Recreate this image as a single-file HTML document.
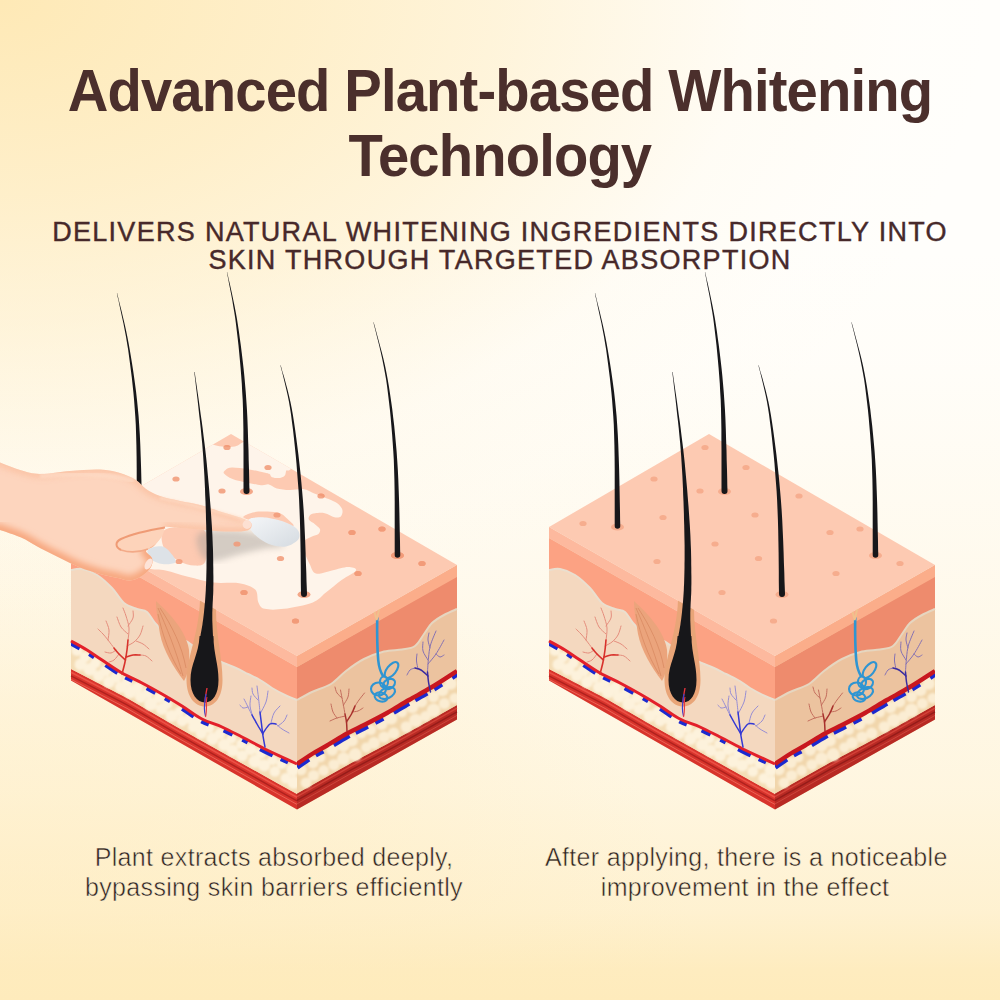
<!DOCTYPE html>
<html lang="en"><head><meta charset="utf-8"><title>Advanced Plant-based Whitening Technology</title>
<style>
html,body{margin:0;padding:0}
body{width:1000px;height:1000px;overflow:hidden;position:relative;font-family:"Liberation Sans",Arial,sans-serif;
background:
 radial-gradient(ellipse 1000px 650px at 0 0, rgba(254,233,182,1) 0%, rgba(254,233,182,.71) 30%, rgba(254,233,182,.47) 50%, rgba(254,233,182,.09) 75%, rgba(254,233,182,.01) 90%, rgba(254,233,182,0) 100%),
 radial-gradient(ellipse 700px 520px at 0 100%, rgba(254,235,188,.6) 0%, rgba(254,235,188,.31) 58%, rgba(254,235,188,0) 100%),
 linear-gradient(to top, rgba(254,235,188,1) 0px, rgba(254,235,188,.95) 30px, rgba(254,235,188,.67) 90px, rgba(254,235,188,.43) 210px, rgba(254,235,188,.27) 370px, rgba(254,235,188,.04) 640px, rgba(254,235,188,0) 750px),
 #fffefb;}
.t{position:absolute;white-space:nowrap;text-align:center;left:0;width:1000px;margin:0}
h1.t{top:57.8px;font-size:59.6px;line-height:65px;font-weight:700;color:#4b2f2c;letter-spacing:-0.9px;transform:scaleX(.943);transform-origin:499px 0}
.sub{top:217.9px;font-size:27px;line-height:28.4px;color:#47292a;letter-spacing:1.3px;-webkit-text-stroke:.4px #47292a}
.cap{font-size:25px;line-height:29.7px;color:#2e2222;width:auto;letter-spacing:.33px;-webkit-text-stroke:.5px #fef2d4}
</style></head><body>
<h1 class="t">Advanced Plant-based Whitening<br>Technology</h1>
<p class="t sub">DELIVERS NATURAL WHITENING INGREDIENTS DIRECTLY INTO<br>SKIN THROUGH TARGETED ABSORPTION</p>
<svg width="1000" height="1000" viewBox="0 0 1000 1000" style="position:absolute;left:0;top:0">
<defs><filter id="b08"><feGaussianBlur stdDeviation="0.8"/></filter><filter id="b1"><feGaussianBlur stdDeviation="1.2"/></filter><filter id="b3"><feGaussianBlur stdDeviation="3"/></filter><linearGradient id="hand" gradientUnits="userSpaceOnUse" x1="60" y1="465" x2="95" y2="580"><stop offset="0" stop-color="#fed6bc"/><stop offset=".55" stop-color="#fdcaab"/><stop offset="1" stop-color="#f7ab88"/></linearGradient><linearGradient id="cream" x1="0" y1="0" x2="1" y2="1"><stop offset="0" stop-color="#f4f6f8"/><stop offset="1" stop-color="#d5dbe1"/></linearGradient></defs>
<g id="rb">
<path d="M549 527 L775 656 L775 809.5 L549 680.5Z" fill="#f4d8bf"/>
<path d="M775 656 L935 565 L935 719.5 L775 809.5Z" fill="#ecc39f"/>
<path d="M549 538 L775 667 L775 700 L775 700C773.3 699.3 769.2 698 765 696C760.8 694 754.5 690.7 750 688C745.5 685.3 742 682.3 738 680C734 677.7 730 676 726 674C722 672 718.8 670.2 714 668C709.2 665.8 702.7 663.7 697 661C691.3 658.3 685.8 655.5 680 652C674.2 648.5 667.8 643 662 640C656.2 637 649.8 636.8 645 634C640.2 631.2 636.3 626.7 633 623C629.7 619.3 628 614.3 625 612C622 609.7 618.8 610.5 615 609C611.2 607.5 606.2 606.5 602 603C597.8 599.5 594.5 592.7 590 588C585.5 583.3 580 578.2 575 575C570 571.8 564.3 569.8 560 569C555.7 568.2 550.8 569.8 549 570Z" fill="#fca283"/>
<path d="M549 570C550.8 569.8 555.7 568.2 560 569C564.3 569.8 570 571.8 575 575C580 578.2 585.5 583.3 590 588C594.5 592.7 597.8 599.5 602 603C606.2 606.5 611.2 607.5 615 609C618.8 610.5 622 609.7 625 612C628 614.3 629.7 619.3 633 623C636.3 626.7 640.2 631.2 645 634C649.8 636.8 656.2 637 662 640C667.8 643 674.2 648.5 680 652C685.8 655.5 691.3 658.3 697 661C702.7 663.7 709.2 665.8 714 668C718.8 670.2 722 672 726 674C730 676 734 677.7 738 680C742 682.3 745.5 685.3 750 688C754.5 690.7 760.8 694 765 696C769.2 698 773.3 699.3 775 700" fill="none" stroke="#eadfcf" stroke-width="2"/>
<path d="M935 576 L775 667 L775 700C777.5 698.7 784.3 694.7 790 692C795.7 689.3 803.3 687.5 809 684C814.7 680.5 818.5 675.2 824 671C829.5 666.8 835.7 662.2 842 659C848.3 655.8 855.7 653.1 862 651.5C868.3 649.9 874.8 650.4 880 649.5C885.2 648.6 889.3 648.6 893 646C896.7 643.4 899.2 637.8 902 634C904.8 630.2 906.7 626.2 910 623C913.3 619.8 917.8 617.3 922 615C926.2 612.7 932.8 610 935 609Z" fill="#ee8b6d"/>
<path d="M775 700C777.5 698.7 784.3 694.7 790 692C795.7 689.3 803.3 687.5 809 684C814.7 680.5 818.5 675.2 824 671C829.5 666.8 835.7 662.2 842 659C848.3 655.8 855.7 653.1 862 651.5C868.3 649.9 874.8 650.4 880 649.5C885.2 648.6 889.3 648.6 893 646C896.7 643.4 899.2 637.8 902 634C904.8 630.2 906.7 626.2 910 623C913.3 619.8 917.8 617.3 922 615C926.2 612.7 932.8 610 935 609" fill="none" stroke="#e6d6c0" stroke-width="2"/>
<path d="M549 527 L775 656 L775 667 L549 538Z" fill="#fdb99e"/>
<path d="M775 656 L935 565 L935 577 L775 667Z" fill="#fbad8a"/>
<path d="M549 669 L605 698 L655 727 L705 755 L755 783 L775 794 L775 809.5 L549 680.5Z" fill="#d8342c"/>
<path d="M775 793.5 L830 762.5 L865 744 L895 727.5 L935 705 L935 719.5 L775 809.5Z" fill="#b82a24"/>
<path d="M549 672.2 L605 701.2 L655 730.2 L705 758.2 L755 786.2 L775 797.2" stroke="#f0564a" stroke-width="1.6" fill="none" opacity=".85"/>
<path d="M549 675.8 L605 704.8 L655 733.8 L705 761.8 L755 789.8 L775 800.8" stroke="#a81f1c" stroke-width="1.4" fill="none" opacity=".85"/>
<path d="M549 679.4 L605 708.4 L655 737.4 L705 765.4 L755 793.4 L775 804.4" stroke="#ee6a5c" stroke-width="1.0" fill="none" opacity=".85"/>
<path d="M775 796.7 L830 765.7 L865 747.2 L895 730.7 L935 708.2" stroke="#d9463c" stroke-width="1.4" fill="none" opacity=".85"/>
<path d="M775 800.3 L830 769.3 L865 750.8 L895 734.3 L935 711.8" stroke="#8e1a18" stroke-width="1.4" fill="none" opacity=".85"/>
<path d="M775 803.9 L830 772.9 L865 754.4 L895 737.9 L935 715.4" stroke="#cf4a40" stroke-width="1.0" fill="none" opacity=".85"/>
<clipPath id="lfR"><path d="M549 527 L775 656 L775 809.5 L549 680.5Z"/></clipPath><clipPath id="rfR"><path d="M775 656 L935 565 L935 719.5 L775 809.5Z"/></clipPath>
<path d="M549 641C551.7 642.5 559.8 646.8 565 650C570.2 653.2 574.2 656.2 580 660C585.8 663.8 593.3 669.2 600 673C606.7 676.8 613.3 679.5 620 683C626.7 686.5 633.3 690.2 640 694C646.7 697.8 653.3 701.8 660 706C666.7 710.2 673.3 715.5 680 719C686.7 722.5 693.3 724 700 727C706.7 730 712.5 733.2 720 737C727.5 740.8 738.3 746.7 745 750C751.7 753.3 755 754.7 760 757C765 759.3 772.5 762.8 775 764 L775 794 L755 783 L705 755 L655 727 L605 698 L549 669Z" fill="#f4ddb6"/>
<path d="M775 764C777.5 762.3 785 757.1 790 754C795 750.9 799.2 748.9 805 745.5C810.8 742.1 818.8 736.9 825 733.5C831.2 730.1 835.3 728.4 842 725C848.7 721.6 857.5 717.2 865 713C872.5 708.8 879.5 704.3 887 700C894.5 695.7 902 691.8 910 687C918 682.2 930.8 673.7 935 671 L935 705 L895 727.5 L865 744 L830 762.5 L775 793.5Z" fill="#f1d6ac"/>
<g clip-path="url(#lfR)"><g fill="#fdf2dc" filter="url(#b08)"><circle cx="555" cy="650.4" r="5.5"/><circle cx="558.6" cy="664.4" r="6"/><circle cx="563.1" cy="657" r="5.2"/><circle cx="567.9" cy="669.3" r="6.4"/><circle cx="573.4" cy="663.1" r="5.3"/><circle cx="576.8" cy="676" r="5.8"/><circle cx="583.5" cy="670.8" r="5.8"/><circle cx="587.1" cy="681.9" r="6"/><circle cx="594.1" cy="677.1" r="5.6"/><circle cx="598.7" cy="687.1" r="5.8"/><circle cx="605.5" cy="681.1" r="5.4"/><circle cx="608.1" cy="691.9" r="6.4"/><circle cx="615.2" cy="687.8" r="5.7"/><circle cx="618.6" cy="697.2" r="5.7"/><circle cx="625.7" cy="693.2" r="5.5"/><circle cx="628.8" cy="704" r="6.6"/><circle cx="637" cy="697.7" r="5.5"/><circle cx="639.7" cy="709.2" r="5.9"/><circle cx="645.1" cy="704.3" r="4.9"/><circle cx="649.7" cy="715.9" r="6.2"/><circle cx="657.4" cy="711.7" r="4.9"/><circle cx="660.1" cy="720.9" r="5.5"/><circle cx="668.5" cy="718" r="6.2"/><circle cx="671.2" cy="727.2" r="5.3"/><circle cx="677.3" cy="722.9" r="6"/><circle cx="679.3" cy="733.3" r="5.6"/><circle cx="687.1" cy="727.9" r="5.1"/><circle cx="690.5" cy="738.6" r="6.3"/><circle cx="698" cy="733.6" r="5.5"/><circle cx="702.1" cy="744.8" r="6.2"/><circle cx="709.5" cy="738.8" r="4.9"/><circle cx="710.6" cy="750.5" r="5.9"/><circle cx="719.2" cy="744.1" r="5"/><circle cx="720.2" cy="755.6" r="5.7"/><circle cx="728.6" cy="749.5" r="5.8"/><circle cx="732.7" cy="761.4" r="6.3"/><circle cx="738.8" cy="753.1" r="5.5"/><circle cx="742.2" cy="765.4" r="6.1"/><circle cx="750.6" cy="760.3" r="5"/><circle cx="752.8" cy="771.4" r="5.3"/><circle cx="759.8" cy="763.9" r="5.1"/><circle cx="763.7" cy="778.2" r="5.2"/><circle cx="770.8" cy="769.7" r="6.4"/><circle cx="771.9" cy="782.4" r="6.5"/></g></g>
<g clip-path="url(#rfR)"><g fill="#fbedd3" filter="url(#b08)"><circle cx="779.1" cy="769.8" r="5.5"/><circle cx="784" cy="782.8" r="5.4"/><circle cx="790.9" cy="762.8" r="5.7"/><circle cx="791.6" cy="775.5" r="5.6"/><circle cx="798.6" cy="757.5" r="4.8"/><circle cx="801.7" cy="770.4" r="5.3"/><circle cx="810.1" cy="749.8" r="5.9"/><circle cx="811.9" cy="764.8" r="5.6"/><circle cx="821.3" cy="745.3" r="6.4"/><circle cx="821.5" cy="758.7" r="6.4"/><circle cx="829.9" cy="740.5" r="6"/><circle cx="833.3" cy="754.6" r="6.5"/><circle cx="839.3" cy="733.3" r="5.2"/><circle cx="844.2" cy="747.6" r="5.1"/><circle cx="848.7" cy="729.6" r="5.4"/><circle cx="852" cy="743" r="5.9"/><circle cx="859.5" cy="724.1" r="6"/><circle cx="862.1" cy="737.1" r="5.7"/><circle cx="869.1" cy="718.2" r="6.3"/><circle cx="871.8" cy="733.3" r="5.7"/><circle cx="879.9" cy="712" r="5.2"/><circle cx="884.3" cy="726.9" r="5.7"/><circle cx="890.3" cy="707.3" r="6"/><circle cx="893.7" cy="720.3" r="6.6"/><circle cx="899.4" cy="701.6" r="5.9"/><circle cx="903.5" cy="716.2" r="5.3"/><circle cx="911.4" cy="696.8" r="5.5"/><circle cx="911.6" cy="710.3" r="6.7"/><circle cx="920.4" cy="690.2" r="6"/><circle cx="922.4" cy="703.5" r="5.5"/><circle cx="928.8" cy="683.5" r="6.2"/><circle cx="932.8" cy="698.3" r="5.3"/></g></g>
<path d="M549 641C551.7 642.5 559.8 646.8 565 650C570.2 653.2 574.2 656.2 580 660C585.8 663.8 593.3 669.2 600 673C606.7 676.8 613.3 679.5 620 683C626.7 686.5 633.3 690.2 640 694C646.7 697.8 653.3 701.8 660 706C666.7 710.2 673.3 715.5 680 719C686.7 722.5 693.3 724 700 727C706.7 730 712.5 733.2 720 737C727.5 740.8 738.3 746.7 745 750C751.7 753.3 755 754.7 760 757C765 759.3 772.5 762.8 775 764" fill="none" stroke="#1b2ad0" stroke-width="4.5" stroke-dasharray="10 11 6 14 14 9 8 16" transform="translate(0,2.4)" clip-path="url(#lfR)"/>
<path d="M775 764C777.5 762.3 785 757.1 790 754C795 750.9 799.2 748.9 805 745.5C810.8 742.1 818.8 736.9 825 733.5C831.2 730.1 835.3 728.4 842 725C848.7 721.6 857.5 717.2 865 713C872.5 708.8 879.5 704.3 887 700C894.5 695.7 902 691.8 910 687C918 682.2 930.8 673.7 935 671" fill="none" stroke="#1b2ad0" stroke-width="5.5" stroke-dasharray="14 8 9 12 18 7" transform="translate(0,3)" clip-path="url(#rfR)"/>
<path d="M549 641C551.7 642.5 559.8 646.8 565 650C570.2 653.2 574.2 656.2 580 660C585.8 663.8 593.3 669.2 600 673C606.7 676.8 613.3 679.5 620 683C626.7 686.5 633.3 690.2 640 694C646.7 697.8 653.3 701.8 660 706C666.7 710.2 673.3 715.5 680 719C686.7 722.5 693.3 724 700 727C706.7 730 712.5 733.2 720 737C727.5 740.8 738.3 746.7 745 750C751.7 753.3 755 754.7 760 757C765 759.3 772.5 762.8 775 764" fill="none" stroke="#e3202a" stroke-width="3"/>
<path d="M775 764C777.5 762.3 785 757.1 790 754C795 750.9 799.2 748.9 805 745.5C810.8 742.1 818.8 736.9 825 733.5C831.2 730.1 835.3 728.4 842 725C848.7 721.6 857.5 717.2 865 713C872.5 708.8 879.5 704.3 887 700C894.5 695.7 902 691.8 910 687C918 682.2 930.8 673.7 935 671" fill="none" stroke="#c8171f" stroke-width="4.4" clip-path="url(#rfR)"/>
<g fill="none" stroke-linecap="round"><g stroke="#e07a6c" stroke-width="1.0" opacity=".8"><path d="M606 640C606.2 638 607.3 632 607 628C606.7 624 605 619.3 604 616C603 612.7 601.5 609.3 601 608"/><path d="M592 648C591 646.7 587.8 642.3 586 640C584.2 637.7 582.7 635.8 581 634C579.3 632.2 576.8 629.8 576 629"/><path d="M594 650C593.2 650.5 590.8 652.7 589 653C587.2 653.3 584 652.2 583 652"/><path d="M586 640C586.2 638.3 587.3 633.2 587 630C586.7 626.8 584.5 622.5 584 621"/><path d="M618 655C619 655.2 622 655 624 656C626 657 629 660.2 630 661"/><path d="M605 646C606.2 645.3 609.8 643.8 612 642C614.2 640.2 616.5 637.7 618 635C619.5 632.3 620.5 627.5 621 626"/><path d="M606 634C604.8 632.8 600.8 629.8 599 627C597.2 624.2 595.7 618.7 595 617"/><path d="M614 641C615.2 641.5 618.8 642.7 621 644C623.2 645.3 626 648.2 627 649"/><path d="M606 626C606.8 624.7 610.2 620.5 611 618C611.8 615.5 611 612.2 611 611"/><path d="M597 654C596.2 655 593.7 658.7 592 660C590.3 661.3 587.8 661.7 587 662"/></g><g stroke="#d8322c" stroke-width="1.6"><path d="M600 674C600.5 672 602.2 666 603 662C603.8 658 604.5 653.7 605 650C605.5 646.3 605.8 641.7 606 640"/><path d="M603.5 660C602.4 659 598.9 656 597 654C595.1 652 592.8 649 592 648"/><path d="M604 657C605.2 656.7 608.7 655.3 611 655C613.3 654.7 616.8 655 618 655"/></g></g>
<g fill="none" stroke-linecap="round"><g stroke="#7f7ad8" stroke-width="1.0" opacity=".8"><path d="M738 712C737.8 709.7 737 702.3 736.5 698C736 693.7 735.2 688 735 686"/><path d="M730 715C729.3 713.7 727.3 709.7 726 707C724.7 704.3 722.7 700.3 722 699"/><path d="M738 714C739 712 742.7 705.8 744 702C745.3 698.2 745.7 692.8 746 691"/><path d="M754 724C755 724.8 757.8 727.5 760 729C762.2 730.5 765.8 732.3 767 733"/><path d="M749 723C749.5 721.3 750.5 715.8 752 713C753.5 710.2 757 707.2 758 706"/><path d="M731 717C730.5 715.2 728.3 709.5 728 706C727.7 702.5 728.8 697.7 729 696"/><path d="M756 726C757 725.2 760.5 722.8 762 721C763.5 719.2 764.5 716 765 715"/><path d="M736 700C735.2 699 732 696 731 694C730 692 730.2 689 730 688"/><path d="M726 707C725.2 707.2 722.3 708.3 721 708C719.7 707.7 718.5 705.5 718 705"/></g><g stroke="#3338d4" stroke-width="1.5"><path d="M743 747C742.7 745.2 741.6 739.8 741 736C740.4 732.2 740 728 739.5 724C739 720 738.2 714 738 712"/><path d="M741 734C740 732.3 736.8 727.2 735 724C733.2 720.8 730.8 716.5 730 715"/><path d="M741 733C742.2 731.5 745.8 725.5 748 724C750.2 722.5 753 724 754 724"/></g></g>
<g fill="none" stroke-linecap="round"><g stroke="#b9584c" stroke-width="1.0" opacity=".8"><path d="M823 714C822.7 712.2 821.8 707 821 703C820.2 699 818.9 692.2 818.5 690"/><path d="M833 706C833.7 705 835.4 702.2 837 700C838.6 697.8 841.6 694.2 842.5 693"/><path d="M823.5 716C822.1 716.3 817.6 717.2 815 718C812.4 718.8 809.2 720.5 808 721"/><path d="M821.5 705C822.2 703.7 825.1 699.7 826 697C826.9 694.3 826.8 690.3 827 689"/><path d="M815 718C814.3 717 812 714.3 811 712C810 709.7 809.3 705.3 809 704"/><path d="M830 712C831 711.8 834.2 711.7 836 711C837.8 710.3 840.2 708.5 841 708"/><path d="M820 698C819.2 697.2 816.2 694.8 815 693C813.8 691.2 813.3 688 813 687"/></g><g stroke="#a8302c" stroke-width="1.5"><path d="M825 731C824.9 729.5 824.8 724.8 824.5 722C824.2 719.2 823.2 715.3 823 714"/><path d="M824.5 722C825.4 720.5 828.6 715.7 830 713C831.4 710.3 832.5 707.2 833 706"/></g></g>
<g fill="none" stroke-linecap="round"><g stroke="#6a5cb8" stroke-width="1.0" opacity=".8"><path d="M905.5 672C905.7 669.7 906 662.5 906.5 658C907 653.5 907.2 649.5 908.5 645C909.8 640.5 913.1 633.3 914 631"/><path d="M893 668C892.2 668.3 889.3 668.8 888 670C886.7 671.2 885.5 674.2 885 675"/><path d="M896 669C895.8 667.7 894.7 663.5 894.5 661C894.3 658.5 894.9 655.2 895 654"/><path d="M906 664C907.3 662.3 911.3 658 914 654C916.7 650 920.7 642.3 922 640"/><path d="M914 654C914.7 654.5 916.7 656.8 918 657C919.3 657.2 921.3 655.3 922 655"/><path d="M906 660C905.2 658.5 901.8 654 901 651C900.2 648 901 643.5 901 642"/><path d="M908 648C907.7 646.7 906.2 642.5 906 640C905.8 637.5 906.8 634.2 907 633"/></g><g stroke="#3a2ca0" stroke-width="1.5"><path d="M908.5 692C908.2 690.3 907 685.3 906.5 682C906 678.7 905.7 673.7 905.5 672"/><path d="M906 676C904.8 675 901.2 671.3 899 670C896.8 668.7 894 668.3 893 668"/></g></g>
<path d="M855.2 618 C855 632 855.2 648 856.2 660 C857 668 858.5 672 861 676" fill="none" stroke="#2f95d2" stroke-width="2.6" stroke-linecap="round"/>
<g fill="none" stroke="#2f95d2" stroke-width="2.1"><ellipse cx="869.5" cy="670" rx="4.6" ry="9.4" transform="rotate(38 869.5 670)"/><ellipse cx="856.5" cy="689" rx="7.5" ry="6.5"/><ellipse cx="865" cy="693" rx="8.5" ry="5.2" transform="rotate(-25 865 693)"/><ellipse cx="867" cy="684" rx="6.5" ry="4.6" transform="rotate(-30 867 684)"/><ellipse cx="859" cy="697" rx="6.5" ry="4.4" transform="rotate(15 859 697)"/><ellipse cx="862" cy="682" rx="4" ry="5.5"/></g>
<path d="M851.5 608 L854.6 620 L857.5 608" fill="none" stroke="#f1c08c" stroke-width="2"/>
<path d="M634 601 C646 612 664 630 667 650 C668 664 666 674 662 681 C652 668 641 650 638 634 C636 622 634 610 634 601Z" fill="#eba47c"/>
<g fill="none" stroke="#d98a62" stroke-width=".8"><path d="M636 608 C644 626 654 650 661 676"/><path d="M638 608 C650 626 660 646 664 668"/><path d="M636 614 C640 634 648 656 659 674"/></g>
<path d="M678 600 C677 634 664.5 658 664.5 680 C664.5 697 673 706.5 683 706.5 C693 706.5 700.5 697 700.5 680 C700.5 658 694 636 694 609Z" fill="#e9a578"/>
<path d="M709 434 L935 565 L775 656 L549 527Z" fill="#fdcab2"/>
<g fill="#f5a888" opacity=".85"><ellipse cx="705" cy="447.5" rx="3.6" ry="2.6"/><ellipse cx="746" cy="467.5" rx="3.6" ry="2.6"/><ellipse cx="654" cy="479" rx="3.6" ry="2.6"/><ellipse cx="700" cy="491" rx="3.6" ry="2.6"/><ellipse cx="799" cy="496" rx="3.6" ry="2.6"/><ellipse cx="663" cy="517.5" rx="3.6" ry="2.6"/><ellipse cx="755" cy="515" rx="3.6" ry="2.6"/><ellipse cx="583" cy="523.5" rx="3.6" ry="2.6"/><ellipse cx="830" cy="532.5" rx="3.6" ry="2.6"/><ellipse cx="715" cy="544" rx="3.6" ry="2.6"/><ellipse cx="860" cy="529" rx="3.6" ry="2.6"/><ellipse cx="657" cy="561.5" rx="3.6" ry="2.6"/><ellipse cx="758.5" cy="558.5" rx="3.6" ry="2.6"/><ellipse cx="836" cy="573.5" rx="3.6" ry="2.6"/><ellipse cx="900" cy="563.5" rx="3.6" ry="2.6"/><ellipse cx="722" cy="592.5" rx="3.6" ry="2.6"/><ellipse cx="773.5" cy="621" rx="3.6" ry="2.6"/><ellipse cx="617.5" cy="527" rx="6.5" ry="3.6"/><ellipse cx="724.5" cy="491.5" rx="6.5" ry="3.6"/><ellipse cx="782" cy="594.5" rx="6.5" ry="3.6"/><ellipse cx="875.5" cy="555.5" rx="6.5" ry="3.6"/></g>
<g fill="#17171a"><path d="M594.9 293 L595.5 296.4 L596.5 300.5 L597.5 305.4 L598.7 310.9 L600 316.9 L601.4 323.3 L602.7 329.9 L604 336.7 L605.1 343.4 L606.2 350.1 L607.1 356.8 L608 363.6 L608.9 370.5 L609.8 377.6 L610.6 384.9 L611.4 392.4 L612.1 400.2 L612.7 408.2 L613.3 416.5 L613.8 425.1 L614.1 434.6 L614.4 445.2 L614.6 456.6 L614.7 468.4 L614.7 480.2 L614.7 491.6 L614.7 502.3 L614.7 511.9 L614.7 519.9 L614.7 526 A2.8 2.8 0 0 0 620.3 526 L620.3 526 L620.1 519.8 L620 511.8 L619.8 502.3 L619.6 491.6 L619.4 480.2 L619.1 468.3 L618.7 456.5 L618.3 445.1 L617.8 434.4 L617.2 424.9 L616.6 416.2 L615.8 407.9 L615 399.9 L614.1 392.1 L613.1 384.6 L612.1 377.3 L611.1 370.2 L610 363.3 L608.9 356.5 L607.8 349.9 L606.6 343.2 L605.3 336.4 L603.9 329.7 L602.4 323.1 L600.9 316.7 L599.5 310.7 L598.1 305.3 L596.9 300.4 L595.9 296.3 L595.1 293Z"/><path d="M704.9 272 L705.4 275.1 L706.2 278.9 L707 283.4 L708 288.4 L709.1 293.9 L710.2 299.8 L711.2 305.9 L712.3 312.3 L713.3 318.7 L714.1 325.1 L714.9 331.7 L715.7 338.5 L716.5 345.5 L717.2 352.8 L717.9 360.3 L718.6 367.9 L719.2 375.8 L719.8 383.8 L720.2 391.9 L720.7 400.1 L721 408.9 L721.2 418.7 L721.4 429 L721.4 439.7 L721.5 450.2 L721.5 460.4 L721.5 469.9 L721.5 478.4 L721.5 485.6 L721.5 491.1 A3 3 0 0 0 727.5 490.9 L727.5 490.9 L727.3 485.5 L727.2 478.3 L727 469.9 L726.7 460.4 L726.5 450.1 L726.1 439.6 L725.8 428.9 L725.4 418.6 L724.9 408.8 L724.3 399.9 L723.7 391.6 L723 383.5 L722.3 375.5 L721.5 367.7 L720.6 360 L719.7 352.5 L718.8 345.2 L717.8 338.2 L716.9 331.4 L715.9 324.9 L714.9 318.4 L713.7 312 L712.5 305.7 L711.2 299.6 L710 293.7 L708.8 288.2 L707.7 283.2 L706.6 278.8 L705.8 275 L705.1 272Z"/><path d="M758.4 365 L759 367.9 L759.9 371.3 L760.9 375.3 L762 379.8 L763.2 384.8 L764.5 390.2 L765.8 396 L767 402.1 L768.1 408.5 L769.1 415.1 L770 422.2 L771 429.8 L771.9 437.8 L772.8 446.2 L773.7 454.9 L774.5 463.8 L775.2 472.9 L775.9 482 L776.6 491.1 L777.1 500.1 L777.5 509.6 L777.9 519.8 L778.2 530.6 L778.4 541.5 L778.6 552.4 L778.7 562.8 L778.8 572.5 L778.8 581.1 L778.9 588.4 L779 594.1 A3 3 0 0 0 785 593.9 L785 593.9 L784.8 588.3 L784.5 581 L784.3 572.4 L783.9 562.7 L783.6 552.3 L783.2 541.4 L782.7 530.4 L782.2 519.6 L781.6 509.4 L780.9 499.9 L780.1 490.8 L779.3 481.7 L778.4 472.6 L777.4 463.5 L776.4 454.6 L775.3 445.9 L774.2 437.5 L773.1 429.5 L772 421.9 L770.9 414.9 L769.7 408.2 L768.4 401.8 L767 395.7 L765.6 390 L764.1 384.6 L762.8 379.6 L761.5 375.1 L760.3 371.2 L759.4 367.8 L758.6 365Z"/><path d="M851.4 322 L852.1 325.4 L853.2 329.6 L854.4 334.5 L855.8 340.1 L857.3 346.1 L858.8 352.6 L860.3 359.3 L861.7 366.2 L863 373.2 L864.2 380.1 L865.2 387.2 L866.1 394.5 L867 402 L867.9 409.8 L868.7 417.8 L869.4 426 L870.1 434.3 L870.7 442.8 L871.3 451.4 L871.8 460.1 L872.1 469.4 L872.4 479.6 L872.6 490.4 L872.7 501.5 L872.7 512.5 L872.7 523.1 L872.7 533 L872.7 541.9 L872.7 549.3 L872.7 555 A2.8 2.8 0 0 0 878.3 555 L878.3 555 L878.1 549.2 L878 541.8 L877.8 533 L877.6 523.1 L877.4 512.5 L877.1 501.4 L876.7 490.3 L876.3 479.5 L875.8 469.2 L875.2 459.9 L874.6 451.2 L873.8 442.6 L873 434.1 L872.2 425.7 L871.2 417.6 L870.3 409.6 L869.2 401.8 L868.1 394.2 L867 386.9 L865.8 379.9 L864.5 372.9 L863.1 365.9 L861.5 359 L859.8 352.3 L858.1 345.9 L856.5 339.9 L855 334.4 L853.7 329.5 L852.5 325.3 L851.6 322Z"/></g>
<path d="M672.3 372 L672.7 375.8 L673.3 380.6 L673.9 386.1 L674.7 392.4 L675.5 399.2 L676.3 406.4 L677.1 413.9 L678 421.4 L678.8 429 L679.5 436.4 L680.2 443.5 L680.7 450.1 L681.2 456.5 L681.6 463 L682 469.6 L682.4 476.1 L682.7 482.6 L683 489.1 L683.2 495.5 L683.5 501.7 L683.7 507.9 L683.9 513.8 L684 519.6 L684.2 525.1 L684.3 530.5 L684.4 535.7 L684.5 540.7 L684.6 545.6 L684.6 550.4 L684.6 555 L684.6 559.5 L684.5 563.9 L684.5 568.1 L684.4 572.2 L684.3 576.2 L684.2 580 L684.1 583.6 L683.9 587 L683.8 590.2 L683.6 593.3 L683.4 596.3 L683.2 599.1 L683 601.9 L682.7 604.5 L682.5 607.1 L682.2 609.7 L682 612.2 L681.7 614.8 L681.4 617.3 L681.1 619.8 L680.7 622.3 L680.4 624.7 L680 627.1 L679.6 629.3 L679.2 631.5 L678.8 633.5 L678.5 635.4 L678.2 637 L678 638.4 L677.8 639.6 L691.2 640.4 L691.2 639.2 L691.1 637.8 L691 636.1 L690.9 634.3 L690.8 632.2 L690.7 630 L690.6 627.7 L690.5 625.3 L690.4 622.8 L690.3 620.3 L690.3 617.8 L690.3 615.2 L690.3 612.8 L690.4 610.3 L690.5 607.7 L690.6 605.1 L690.7 602.4 L690.9 599.6 L691 596.7 L691.2 593.7 L691.3 590.5 L691.3 587.2 L691.4 583.7 L691.4 580 L691.4 576.2 L691.3 572.2 L691.3 568.1 L691.2 563.9 L691.2 559.5 L691.1 555 L691 550.3 L690.8 545.5 L690.6 540.5 L690.4 535.5 L690.1 530.2 L689.8 524.9 L689.4 519.3 L689 513.6 L688.6 507.6 L688.1 501.5 L687.6 495.2 L687.1 488.8 L686.5 482.3 L685.9 475.8 L685.3 469.3 L684.7 462.8 L684 456.3 L683.3 449.9 L682.5 443.2 L681.6 436.2 L680.7 428.8 L679.7 421.2 L678.6 413.7 L677.6 406.2 L676.6 399.1 L675.6 392.3 L674.7 386 L673.9 380.5 L673.2 375.7 L672.7 372Z" fill="#17171a"/><path d="M677.6 636 C676.5 655 668.5 664 668.5 680 C668.5 694 675 702.5 683 702.5 C691 702.5 696.5 694 696.5 680 C696.5 664 691.8 655 691.4 636Z" fill="#17171a"/><path d="M683 703 C683 696 684.5 692 685 688" stroke="#e8343c" stroke-width="1.3" fill="none"/><path d="M683.5 716 C681 708 683 700 684 694" stroke="#3a3fd0" stroke-width="1.2" fill="none"/><path d="M683.5 717 C685.5 709 683.5 702 685 697" stroke="#e8343c" stroke-width="1.1" fill="none"/>
</g>
<g transform="translate(-478 0)">
<path d="M549 527 L775 656 L775 809.5 L549 680.5Z" fill="#f4d8bf"/>
<path d="M775 656 L935 565 L935 719.5 L775 809.5Z" fill="#ecc39f"/>
<path d="M549 538 L775 667 L775 700 L775 700C773.3 699.3 769.2 698 765 696C760.8 694 754.5 690.7 750 688C745.5 685.3 742 682.3 738 680C734 677.7 730 676 726 674C722 672 718.8 670.2 714 668C709.2 665.8 702.7 663.7 697 661C691.3 658.3 685.8 655.5 680 652C674.2 648.5 667.8 643 662 640C656.2 637 649.8 636.8 645 634C640.2 631.2 636.3 626.7 633 623C629.7 619.3 628 614.3 625 612C622 609.7 618.8 610.5 615 609C611.2 607.5 606.2 606.5 602 603C597.8 599.5 594.5 592.7 590 588C585.5 583.3 580 578.2 575 575C570 571.8 564.3 569.8 560 569C555.7 568.2 550.8 569.8 549 570Z" fill="#fca283"/>
<path d="M549 570C550.8 569.8 555.7 568.2 560 569C564.3 569.8 570 571.8 575 575C580 578.2 585.5 583.3 590 588C594.5 592.7 597.8 599.5 602 603C606.2 606.5 611.2 607.5 615 609C618.8 610.5 622 609.7 625 612C628 614.3 629.7 619.3 633 623C636.3 626.7 640.2 631.2 645 634C649.8 636.8 656.2 637 662 640C667.8 643 674.2 648.5 680 652C685.8 655.5 691.3 658.3 697 661C702.7 663.7 709.2 665.8 714 668C718.8 670.2 722 672 726 674C730 676 734 677.7 738 680C742 682.3 745.5 685.3 750 688C754.5 690.7 760.8 694 765 696C769.2 698 773.3 699.3 775 700" fill="none" stroke="#eadfcf" stroke-width="2"/>
<path d="M935 576 L775 667 L775 700C777.5 698.7 784.3 694.7 790 692C795.7 689.3 803.3 687.5 809 684C814.7 680.5 818.5 675.2 824 671C829.5 666.8 835.7 662.2 842 659C848.3 655.8 855.7 653.1 862 651.5C868.3 649.9 874.8 650.4 880 649.5C885.2 648.6 889.3 648.6 893 646C896.7 643.4 899.2 637.8 902 634C904.8 630.2 906.7 626.2 910 623C913.3 619.8 917.8 617.3 922 615C926.2 612.7 932.8 610 935 609Z" fill="#ee8b6d"/>
<path d="M775 700C777.5 698.7 784.3 694.7 790 692C795.7 689.3 803.3 687.5 809 684C814.7 680.5 818.5 675.2 824 671C829.5 666.8 835.7 662.2 842 659C848.3 655.8 855.7 653.1 862 651.5C868.3 649.9 874.8 650.4 880 649.5C885.2 648.6 889.3 648.6 893 646C896.7 643.4 899.2 637.8 902 634C904.8 630.2 906.7 626.2 910 623C913.3 619.8 917.8 617.3 922 615C926.2 612.7 932.8 610 935 609" fill="none" stroke="#e6d6c0" stroke-width="2"/>
<path d="M549 527 L775 656 L775 667 L549 538Z" fill="#fdb99e"/>
<path d="M775 656 L935 565 L935 577 L775 667Z" fill="#fbad8a"/>
<path d="M549 669 L605 698 L655 727 L705 755 L755 783 L775 794 L775 809.5 L549 680.5Z" fill="#d8342c"/>
<path d="M775 793.5 L830 762.5 L865 744 L895 727.5 L935 705 L935 719.5 L775 809.5Z" fill="#b82a24"/>
<path d="M549 672.2 L605 701.2 L655 730.2 L705 758.2 L755 786.2 L775 797.2" stroke="#f0564a" stroke-width="1.6" fill="none" opacity=".85"/>
<path d="M549 675.8 L605 704.8 L655 733.8 L705 761.8 L755 789.8 L775 800.8" stroke="#a81f1c" stroke-width="1.4" fill="none" opacity=".85"/>
<path d="M549 679.4 L605 708.4 L655 737.4 L705 765.4 L755 793.4 L775 804.4" stroke="#ee6a5c" stroke-width="1.0" fill="none" opacity=".85"/>
<path d="M775 796.7 L830 765.7 L865 747.2 L895 730.7 L935 708.2" stroke="#d9463c" stroke-width="1.4" fill="none" opacity=".85"/>
<path d="M775 800.3 L830 769.3 L865 750.8 L895 734.3 L935 711.8" stroke="#8e1a18" stroke-width="1.4" fill="none" opacity=".85"/>
<path d="M775 803.9 L830 772.9 L865 754.4 L895 737.9 L935 715.4" stroke="#cf4a40" stroke-width="1.0" fill="none" opacity=".85"/>
<clipPath id="lfL"><path d="M549 527 L775 656 L775 809.5 L549 680.5Z"/></clipPath><clipPath id="rfL"><path d="M775 656 L935 565 L935 719.5 L775 809.5Z"/></clipPath>
<path d="M549 641C551.7 642.5 559.8 646.8 565 650C570.2 653.2 574.2 656.2 580 660C585.8 663.8 593.3 669.2 600 673C606.7 676.8 613.3 679.5 620 683C626.7 686.5 633.3 690.2 640 694C646.7 697.8 653.3 701.8 660 706C666.7 710.2 673.3 715.5 680 719C686.7 722.5 693.3 724 700 727C706.7 730 712.5 733.2 720 737C727.5 740.8 738.3 746.7 745 750C751.7 753.3 755 754.7 760 757C765 759.3 772.5 762.8 775 764 L775 794 L755 783 L705 755 L655 727 L605 698 L549 669Z" fill="#f4ddb6"/>
<path d="M775 764C777.5 762.3 785 757.1 790 754C795 750.9 799.2 748.9 805 745.5C810.8 742.1 818.8 736.9 825 733.5C831.2 730.1 835.3 728.4 842 725C848.7 721.6 857.5 717.2 865 713C872.5 708.8 879.5 704.3 887 700C894.5 695.7 902 691.8 910 687C918 682.2 930.8 673.7 935 671 L935 705 L895 727.5 L865 744 L830 762.5 L775 793.5Z" fill="#f1d6ac"/>
<g clip-path="url(#lfL)"><g fill="#fdf2dc" filter="url(#b08)"><circle cx="555" cy="650.4" r="5.5"/><circle cx="558.6" cy="664.4" r="6"/><circle cx="563.1" cy="657" r="5.2"/><circle cx="567.9" cy="669.3" r="6.4"/><circle cx="573.4" cy="663.1" r="5.3"/><circle cx="576.8" cy="676" r="5.8"/><circle cx="583.5" cy="670.8" r="5.8"/><circle cx="587.1" cy="681.9" r="6"/><circle cx="594.1" cy="677.1" r="5.6"/><circle cx="598.7" cy="687.1" r="5.8"/><circle cx="605.5" cy="681.1" r="5.4"/><circle cx="608.1" cy="691.9" r="6.4"/><circle cx="615.2" cy="687.8" r="5.7"/><circle cx="618.6" cy="697.2" r="5.7"/><circle cx="625.7" cy="693.2" r="5.5"/><circle cx="628.8" cy="704" r="6.6"/><circle cx="637" cy="697.7" r="5.5"/><circle cx="639.7" cy="709.2" r="5.9"/><circle cx="645.1" cy="704.3" r="4.9"/><circle cx="649.7" cy="715.9" r="6.2"/><circle cx="657.4" cy="711.7" r="4.9"/><circle cx="660.1" cy="720.9" r="5.5"/><circle cx="668.5" cy="718" r="6.2"/><circle cx="671.2" cy="727.2" r="5.3"/><circle cx="677.3" cy="722.9" r="6"/><circle cx="679.3" cy="733.3" r="5.6"/><circle cx="687.1" cy="727.9" r="5.1"/><circle cx="690.5" cy="738.6" r="6.3"/><circle cx="698" cy="733.6" r="5.5"/><circle cx="702.1" cy="744.8" r="6.2"/><circle cx="709.5" cy="738.8" r="4.9"/><circle cx="710.6" cy="750.5" r="5.9"/><circle cx="719.2" cy="744.1" r="5"/><circle cx="720.2" cy="755.6" r="5.7"/><circle cx="728.6" cy="749.5" r="5.8"/><circle cx="732.7" cy="761.4" r="6.3"/><circle cx="738.8" cy="753.1" r="5.5"/><circle cx="742.2" cy="765.4" r="6.1"/><circle cx="750.6" cy="760.3" r="5"/><circle cx="752.8" cy="771.4" r="5.3"/><circle cx="759.8" cy="763.9" r="5.1"/><circle cx="763.7" cy="778.2" r="5.2"/><circle cx="770.8" cy="769.7" r="6.4"/><circle cx="771.9" cy="782.4" r="6.5"/></g></g>
<g clip-path="url(#rfL)"><g fill="#fbedd3" filter="url(#b08)"><circle cx="779.1" cy="769.8" r="5.5"/><circle cx="784" cy="782.8" r="5.4"/><circle cx="790.9" cy="762.8" r="5.7"/><circle cx="791.6" cy="775.5" r="5.6"/><circle cx="798.6" cy="757.5" r="4.8"/><circle cx="801.7" cy="770.4" r="5.3"/><circle cx="810.1" cy="749.8" r="5.9"/><circle cx="811.9" cy="764.8" r="5.6"/><circle cx="821.3" cy="745.3" r="6.4"/><circle cx="821.5" cy="758.7" r="6.4"/><circle cx="829.9" cy="740.5" r="6"/><circle cx="833.3" cy="754.6" r="6.5"/><circle cx="839.3" cy="733.3" r="5.2"/><circle cx="844.2" cy="747.6" r="5.1"/><circle cx="848.7" cy="729.6" r="5.4"/><circle cx="852" cy="743" r="5.9"/><circle cx="859.5" cy="724.1" r="6"/><circle cx="862.1" cy="737.1" r="5.7"/><circle cx="869.1" cy="718.2" r="6.3"/><circle cx="871.8" cy="733.3" r="5.7"/><circle cx="879.9" cy="712" r="5.2"/><circle cx="884.3" cy="726.9" r="5.7"/><circle cx="890.3" cy="707.3" r="6"/><circle cx="893.7" cy="720.3" r="6.6"/><circle cx="899.4" cy="701.6" r="5.9"/><circle cx="903.5" cy="716.2" r="5.3"/><circle cx="911.4" cy="696.8" r="5.5"/><circle cx="911.6" cy="710.3" r="6.7"/><circle cx="920.4" cy="690.2" r="6"/><circle cx="922.4" cy="703.5" r="5.5"/><circle cx="928.8" cy="683.5" r="6.2"/><circle cx="932.8" cy="698.3" r="5.3"/></g></g>
<path d="M549 641C551.7 642.5 559.8 646.8 565 650C570.2 653.2 574.2 656.2 580 660C585.8 663.8 593.3 669.2 600 673C606.7 676.8 613.3 679.5 620 683C626.7 686.5 633.3 690.2 640 694C646.7 697.8 653.3 701.8 660 706C666.7 710.2 673.3 715.5 680 719C686.7 722.5 693.3 724 700 727C706.7 730 712.5 733.2 720 737C727.5 740.8 738.3 746.7 745 750C751.7 753.3 755 754.7 760 757C765 759.3 772.5 762.8 775 764" fill="none" stroke="#1b2ad0" stroke-width="4.5" stroke-dasharray="10 11 6 14 14 9 8 16" transform="translate(0,2.4)" clip-path="url(#lfL)"/>
<path d="M775 764C777.5 762.3 785 757.1 790 754C795 750.9 799.2 748.9 805 745.5C810.8 742.1 818.8 736.9 825 733.5C831.2 730.1 835.3 728.4 842 725C848.7 721.6 857.5 717.2 865 713C872.5 708.8 879.5 704.3 887 700C894.5 695.7 902 691.8 910 687C918 682.2 930.8 673.7 935 671" fill="none" stroke="#1b2ad0" stroke-width="5.5" stroke-dasharray="14 8 9 12 18 7" transform="translate(0,3)" clip-path="url(#rfL)"/>
<path d="M549 641C551.7 642.5 559.8 646.8 565 650C570.2 653.2 574.2 656.2 580 660C585.8 663.8 593.3 669.2 600 673C606.7 676.8 613.3 679.5 620 683C626.7 686.5 633.3 690.2 640 694C646.7 697.8 653.3 701.8 660 706C666.7 710.2 673.3 715.5 680 719C686.7 722.5 693.3 724 700 727C706.7 730 712.5 733.2 720 737C727.5 740.8 738.3 746.7 745 750C751.7 753.3 755 754.7 760 757C765 759.3 772.5 762.8 775 764" fill="none" stroke="#e3202a" stroke-width="3"/>
<path d="M775 764C777.5 762.3 785 757.1 790 754C795 750.9 799.2 748.9 805 745.5C810.8 742.1 818.8 736.9 825 733.5C831.2 730.1 835.3 728.4 842 725C848.7 721.6 857.5 717.2 865 713C872.5 708.8 879.5 704.3 887 700C894.5 695.7 902 691.8 910 687C918 682.2 930.8 673.7 935 671" fill="none" stroke="#c8171f" stroke-width="4.4" clip-path="url(#rfL)"/>
<g fill="none" stroke-linecap="round"><g stroke="#e07a6c" stroke-width="1.0" opacity=".8"><path d="M606 640C606.2 638 607.3 632 607 628C606.7 624 605 619.3 604 616C603 612.7 601.5 609.3 601 608"/><path d="M592 648C591 646.7 587.8 642.3 586 640C584.2 637.7 582.7 635.8 581 634C579.3 632.2 576.8 629.8 576 629"/><path d="M594 650C593.2 650.5 590.8 652.7 589 653C587.2 653.3 584 652.2 583 652"/><path d="M586 640C586.2 638.3 587.3 633.2 587 630C586.7 626.8 584.5 622.5 584 621"/><path d="M618 655C619 655.2 622 655 624 656C626 657 629 660.2 630 661"/><path d="M605 646C606.2 645.3 609.8 643.8 612 642C614.2 640.2 616.5 637.7 618 635C619.5 632.3 620.5 627.5 621 626"/><path d="M606 634C604.8 632.8 600.8 629.8 599 627C597.2 624.2 595.7 618.7 595 617"/><path d="M614 641C615.2 641.5 618.8 642.7 621 644C623.2 645.3 626 648.2 627 649"/><path d="M606 626C606.8 624.7 610.2 620.5 611 618C611.8 615.5 611 612.2 611 611"/><path d="M597 654C596.2 655 593.7 658.7 592 660C590.3 661.3 587.8 661.7 587 662"/></g><g stroke="#d8322c" stroke-width="1.6"><path d="M600 674C600.5 672 602.2 666 603 662C603.8 658 604.5 653.7 605 650C605.5 646.3 605.8 641.7 606 640"/><path d="M603.5 660C602.4 659 598.9 656 597 654C595.1 652 592.8 649 592 648"/><path d="M604 657C605.2 656.7 608.7 655.3 611 655C613.3 654.7 616.8 655 618 655"/></g></g>
<g fill="none" stroke-linecap="round"><g stroke="#7f7ad8" stroke-width="1.0" opacity=".8"><path d="M738 712C737.8 709.7 737 702.3 736.5 698C736 693.7 735.2 688 735 686"/><path d="M730 715C729.3 713.7 727.3 709.7 726 707C724.7 704.3 722.7 700.3 722 699"/><path d="M738 714C739 712 742.7 705.8 744 702C745.3 698.2 745.7 692.8 746 691"/><path d="M754 724C755 724.8 757.8 727.5 760 729C762.2 730.5 765.8 732.3 767 733"/><path d="M749 723C749.5 721.3 750.5 715.8 752 713C753.5 710.2 757 707.2 758 706"/><path d="M731 717C730.5 715.2 728.3 709.5 728 706C727.7 702.5 728.8 697.7 729 696"/><path d="M756 726C757 725.2 760.5 722.8 762 721C763.5 719.2 764.5 716 765 715"/><path d="M736 700C735.2 699 732 696 731 694C730 692 730.2 689 730 688"/><path d="M726 707C725.2 707.2 722.3 708.3 721 708C719.7 707.7 718.5 705.5 718 705"/></g><g stroke="#3338d4" stroke-width="1.5"><path d="M743 747C742.7 745.2 741.6 739.8 741 736C740.4 732.2 740 728 739.5 724C739 720 738.2 714 738 712"/><path d="M741 734C740 732.3 736.8 727.2 735 724C733.2 720.8 730.8 716.5 730 715"/><path d="M741 733C742.2 731.5 745.8 725.5 748 724C750.2 722.5 753 724 754 724"/></g></g>
<g fill="none" stroke-linecap="round"><g stroke="#b9584c" stroke-width="1.0" opacity=".8"><path d="M823 714C822.7 712.2 821.8 707 821 703C820.2 699 818.9 692.2 818.5 690"/><path d="M833 706C833.7 705 835.4 702.2 837 700C838.6 697.8 841.6 694.2 842.5 693"/><path d="M823.5 716C822.1 716.3 817.6 717.2 815 718C812.4 718.8 809.2 720.5 808 721"/><path d="M821.5 705C822.2 703.7 825.1 699.7 826 697C826.9 694.3 826.8 690.3 827 689"/><path d="M815 718C814.3 717 812 714.3 811 712C810 709.7 809.3 705.3 809 704"/><path d="M830 712C831 711.8 834.2 711.7 836 711C837.8 710.3 840.2 708.5 841 708"/><path d="M820 698C819.2 697.2 816.2 694.8 815 693C813.8 691.2 813.3 688 813 687"/></g><g stroke="#a8302c" stroke-width="1.5"><path d="M825 731C824.9 729.5 824.8 724.8 824.5 722C824.2 719.2 823.2 715.3 823 714"/><path d="M824.5 722C825.4 720.5 828.6 715.7 830 713C831.4 710.3 832.5 707.2 833 706"/></g></g>
<g fill="none" stroke-linecap="round"><g stroke="#6a5cb8" stroke-width="1.0" opacity=".8"><path d="M905.5 672C905.7 669.7 906 662.5 906.5 658C907 653.5 907.2 649.5 908.5 645C909.8 640.5 913.1 633.3 914 631"/><path d="M893 668C892.2 668.3 889.3 668.8 888 670C886.7 671.2 885.5 674.2 885 675"/><path d="M896 669C895.8 667.7 894.7 663.5 894.5 661C894.3 658.5 894.9 655.2 895 654"/><path d="M906 664C907.3 662.3 911.3 658 914 654C916.7 650 920.7 642.3 922 640"/><path d="M914 654C914.7 654.5 916.7 656.8 918 657C919.3 657.2 921.3 655.3 922 655"/><path d="M906 660C905.2 658.5 901.8 654 901 651C900.2 648 901 643.5 901 642"/><path d="M908 648C907.7 646.7 906.2 642.5 906 640C905.8 637.5 906.8 634.2 907 633"/></g><g stroke="#3a2ca0" stroke-width="1.5"><path d="M908.5 692C908.2 690.3 907 685.3 906.5 682C906 678.7 905.7 673.7 905.5 672"/><path d="M906 676C904.8 675 901.2 671.3 899 670C896.8 668.7 894 668.3 893 668"/></g></g>
<path d="M855.2 618 C855 632 855.2 648 856.2 660 C857 668 858.5 672 861 676" fill="none" stroke="#2f95d2" stroke-width="2.6" stroke-linecap="round"/>
<g fill="none" stroke="#2f95d2" stroke-width="2.1"><ellipse cx="869.5" cy="670" rx="4.6" ry="9.4" transform="rotate(38 869.5 670)"/><ellipse cx="856.5" cy="689" rx="7.5" ry="6.5"/><ellipse cx="865" cy="693" rx="8.5" ry="5.2" transform="rotate(-25 865 693)"/><ellipse cx="867" cy="684" rx="6.5" ry="4.6" transform="rotate(-30 867 684)"/><ellipse cx="859" cy="697" rx="6.5" ry="4.4" transform="rotate(15 859 697)"/><ellipse cx="862" cy="682" rx="4" ry="5.5"/></g>
<path d="M851.5 608 L854.6 620 L857.5 608" fill="none" stroke="#f1c08c" stroke-width="2"/>
<path d="M634 601 C646 612 664 630 667 650 C668 664 666 674 662 681 C652 668 641 650 638 634 C636 622 634 610 634 601Z" fill="#eba47c"/>
<g fill="none" stroke="#d98a62" stroke-width=".8"><path d="M636 608 C644 626 654 650 661 676"/><path d="M638 608 C650 626 660 646 664 668"/><path d="M636 614 C640 634 648 656 659 674"/></g>
<path d="M678 600 C677 634 664.5 658 664.5 680 C664.5 697 673 706.5 683 706.5 C693 706.5 700.5 697 700.5 680 C700.5 658 694 636 694 609Z" fill="#e9a578"/>
<path d="M709 434 L935 565 L775 656 L549 527Z" fill="#fdcab2"/>
<g fill="#f29a78" opacity=".85"><ellipse cx="705" cy="447.5" rx="3.6" ry="2.6"/><ellipse cx="746" cy="467.5" rx="3.6" ry="2.6"/><ellipse cx="654" cy="479" rx="3.6" ry="2.6"/><ellipse cx="700" cy="491" rx="3.6" ry="2.6"/><ellipse cx="799" cy="496" rx="3.6" ry="2.6"/><ellipse cx="663" cy="517.5" rx="3.6" ry="2.6"/><ellipse cx="755" cy="515" rx="3.6" ry="2.6"/><ellipse cx="583" cy="523.5" rx="3.6" ry="2.6"/><ellipse cx="830" cy="532.5" rx="3.6" ry="2.6"/><ellipse cx="715" cy="544" rx="3.6" ry="2.6"/><ellipse cx="860" cy="529" rx="3.6" ry="2.6"/><ellipse cx="657" cy="561.5" rx="3.6" ry="2.6"/><ellipse cx="758.5" cy="558.5" rx="3.6" ry="2.6"/><ellipse cx="836" cy="573.5" rx="3.6" ry="2.6"/><ellipse cx="900" cy="563.5" rx="3.6" ry="2.6"/><ellipse cx="722" cy="592.5" rx="3.6" ry="2.6"/><ellipse cx="773.5" cy="621" rx="3.6" ry="2.6"/><ellipse cx="617.5" cy="527" rx="6.5" ry="3.6"/><ellipse cx="724.5" cy="491.5" rx="6.5" ry="3.6"/><ellipse cx="782" cy="594.5" rx="6.5" ry="3.6"/><ellipse cx="875.5" cy="555.5" rx="6.5" ry="3.6"/></g>
</g>
<clipPath id="topclip"><path d="M231 434 L457 565 L297 656 L71 527Z"/></clipPath>
<g clip-path="url(#topclip)">
<path d="M289.6 470C288 471.4 287.2 469.5 286.4 470.4C285.6 471.3 285.9 474.3 284.8 475.6C283.7 476.9 282.1 477.7 280 478C277.9 478.3 273.7 477.9 272 477.2C270.3 476.5 270.9 474.8 269.6 474C268.3 473.2 267.6 473.2 264 472.4C260.4 471.6 253.3 470 248 469.2C242.7 468.4 235.7 467.5 232 467.6C228.3 467.7 226.9 469 225.6 470C224.3 471 222.9 472 224 473.5C225.1 475 229.1 477.5 232 478.8C234.9 480.1 236.8 480.4 241.6 481.5C246.4 482.6 256.3 484.7 260.8 485.2C265.3 485.7 266.1 483.9 268.8 484.4C271.5 484.9 273.3 487.5 276.8 488.4C280.3 489.3 285.1 489.9 289.6 490C294.1 490.1 300.3 488.8 304 489.2C307.7 489.6 308 490.8 312 492.4C316 494 323.7 496.9 328 498.8C332.3 500.7 335.2 501.7 337.6 503.6C340 505.5 341.9 507.9 342.4 510C342.9 512.1 342.1 515.2 340.8 516.4C339.5 517.6 337.1 517.7 334.4 517.2C331.7 516.7 328 513.9 324.8 513.2C321.6 512.5 317.6 512.9 315.2 513.2C312.8 513.5 311.5 513.7 310.4 514.8C309.3 515.9 308 518 308.8 519.6C309.6 521.2 313.3 522.8 315.2 524.4C317.1 526 319.5 527.6 320 529.2C320.5 530.8 319.7 532.8 318.4 534C317.1 535.2 314.4 535.2 312 536.4C309.6 537.6 305.5 539.1 304 541C302.5 542.9 302.1 544.2 303 548C303.9 551.8 307.4 559.7 309.6 564C311.8 568.3 312.3 572.5 316 573.6C319.7 574.7 326.7 571.5 332 570.4C337.3 569.3 344 567 348 567C352 567 357.1 568.2 356 570.4C354.9 572.6 346.7 576.3 341.6 580C336.5 583.7 330.4 589.1 325.6 592.8C320.8 596.5 319.7 599.7 312.8 602.4C305.9 605.1 292 607.7 284 608.8C276 609.9 269.1 609.9 264.8 608.8C260.5 607.7 260 605.6 258.4 602.4C256.8 599.2 258.4 592.8 255.2 589.6C252 586.4 246.1 584.4 239.2 583.2C232.3 582 222.1 583.7 213.6 582.6C205.1 581.5 196 578.8 188 576.8C180 574.8 172.5 571.9 165.6 570.4C158.7 568.9 155.7 570.9 146.4 567.8C137.1 564.7 124.4 558.6 110 552C95.6 545.4 58.3 540 60 528C61.7 516 95.8 494.7 120 480C144.2 465.3 189.5 445.9 205 440C220.5 434.1 210.2 443.4 213 444.5C215.8 445.6 218.3 446.2 222 446.5C225.7 446.8 231 447.4 235 446.5C239 445.6 241.5 442.1 246 441C250.5 439.9 253.7 436.5 262 440C270.3 443.5 291.4 457 296 462C300.6 467 291.2 468.6 289.6 470Z" fill="#fef4ea"/>
<path d="M243.2 517C243.5 515.7 248.8 513.3 252.8 512.4C256.8 511.5 262.7 511.5 267.2 511.6C271.7 511.7 276.8 512.1 280 513.2C283.2 514.3 284.1 516 286.4 518C288.6 520 292.9 523.5 293.5 525C294.1 526.5 292.2 527.7 290 527C287.8 526.3 284.3 522.4 280 521C275.7 519.6 268.8 518.7 264 518.5C259.2 518.3 254.5 520.2 251 520C247.5 519.8 242.9 518.3 243.2 517Z" fill="#fdcab2"/>
<path d="M164 530.4C168 526.9 181.1 526.9 188 527.2C194.9 527.5 202.7 526.4 205.6 532C208.5 537.6 207.5 555.2 205.6 560.8C203.7 566.4 198.9 565.6 194.4 565.6C189.9 565.6 183.5 563.7 178.4 560.8C173.3 557.9 166.4 553.1 164 548C161.6 542.9 160 533.9 164 530.4Z" fill="#fdcab2"/>
<path d="M200.8 532.6C208.8 528.9 234.9 529.9 248.8 532C262.7 534.1 281.3 542.7 284 545.4C286.7 548.2 272.3 547.1 264.8 548.6C257.3 550.1 247.7 552.4 239.2 554.4C230.7 556.4 220 560.8 213.6 560.8C207.2 560.8 202.9 559.1 200.8 554.4C198.7 549.7 192.8 536.4 200.8 532.6Z" fill="#aaa39c" opacity=".5" filter="url(#b3)"/>
</g>
<g transform="translate(-478 0)"><g fill="#f29a78" opacity=".85"><ellipse cx="705" cy="447.5" rx="3.6" ry="2.6"/><ellipse cx="746" cy="467.5" rx="3.6" ry="2.6"/><ellipse cx="654" cy="479" rx="3.6" ry="2.6"/><ellipse cx="700" cy="491" rx="3.6" ry="2.6"/><ellipse cx="799" cy="496" rx="3.6" ry="2.6"/><ellipse cx="663" cy="517.5" rx="3.6" ry="2.6"/><ellipse cx="755" cy="515" rx="3.6" ry="2.6"/><ellipse cx="583" cy="523.5" rx="3.6" ry="2.6"/><ellipse cx="830" cy="532.5" rx="3.6" ry="2.6"/><ellipse cx="715" cy="544" rx="3.6" ry="2.6"/><ellipse cx="860" cy="529" rx="3.6" ry="2.6"/><ellipse cx="657" cy="561.5" rx="3.6" ry="2.6"/><ellipse cx="758.5" cy="558.5" rx="3.6" ry="2.6"/><ellipse cx="836" cy="573.5" rx="3.6" ry="2.6"/><ellipse cx="900" cy="563.5" rx="3.6" ry="2.6"/><ellipse cx="722" cy="592.5" rx="3.6" ry="2.6"/><ellipse cx="773.5" cy="621" rx="3.6" ry="2.6"/><ellipse cx="617.5" cy="527" rx="6.5" ry="3.6"/><ellipse cx="724.5" cy="491.5" rx="6.5" ry="3.6"/><ellipse cx="782" cy="594.5" rx="6.5" ry="3.6"/><ellipse cx="875.5" cy="555.5" rx="6.5" ry="3.6"/></g></g>
<path d="M248.8 520C249.6 517.9 253.1 517.9 256 517.5C258.9 517.1 261.3 516.9 266 517.6C270.7 518.3 279 520.1 284 521.8C289 523.5 293.4 525.8 296 528C298.6 530.2 299.4 532.8 299.5 535C299.6 537.2 299.1 539.1 296.8 541C294.6 542.9 290.1 545.7 286 546.4C281.9 547.1 276.3 546.2 272 545C267.7 543.8 263.5 541.5 260 539C256.5 536.5 252.9 533.2 251 530C249.1 526.8 248 522.1 248.8 520Z" fill="url(#cream)"/>
<path d="M148 549.6C149.9 547.5 158.4 545.6 162.4 546.4C166.4 547.2 169.9 551.7 172 554.4C174.1 557.1 176.8 560.8 175.2 562.4C173.6 564 166.4 564.5 162.4 564C158.4 563.5 153.6 561.6 151.2 559.2C148.8 556.8 146.1 551.7 148 549.6Z" fill="#dde2e7"/>
<g transform="translate(-478 0)"><g fill="#17171a"><path d="M594.9 293 L595.5 296.4 L596.5 300.5 L597.5 305.4 L598.7 310.9 L600 316.9 L601.4 323.3 L602.7 329.9 L604 336.7 L605.1 343.4 L606.2 350.1 L607.1 356.8 L608 363.6 L608.9 370.5 L609.8 377.6 L610.6 384.9 L611.4 392.4 L612.1 400.2 L612.7 408.2 L613.3 416.5 L613.8 425.1 L614.1 434.6 L614.4 445.2 L614.6 456.6 L614.7 468.4 L614.7 480.2 L614.7 491.6 L614.7 502.3 L614.7 511.9 L614.7 519.9 L614.7 526 A2.8 2.8 0 0 0 620.3 526 L620.3 526 L620.1 519.8 L620 511.8 L619.8 502.3 L619.6 491.6 L619.4 480.2 L619.1 468.3 L618.7 456.5 L618.3 445.1 L617.8 434.4 L617.2 424.9 L616.6 416.2 L615.8 407.9 L615 399.9 L614.1 392.1 L613.1 384.6 L612.1 377.3 L611.1 370.2 L610 363.3 L608.9 356.5 L607.8 349.9 L606.6 343.2 L605.3 336.4 L603.9 329.7 L602.4 323.1 L600.9 316.7 L599.5 310.7 L598.1 305.3 L596.9 300.4 L595.9 296.3 L595.1 293Z"/><path d="M704.9 272 L705.4 275.1 L706.2 278.9 L707 283.4 L708 288.4 L709.1 293.9 L710.2 299.8 L711.2 305.9 L712.3 312.3 L713.3 318.7 L714.1 325.1 L714.9 331.7 L715.7 338.5 L716.5 345.5 L717.2 352.8 L717.9 360.3 L718.6 367.9 L719.2 375.8 L719.8 383.8 L720.2 391.9 L720.7 400.1 L721 408.9 L721.2 418.7 L721.4 429 L721.4 439.7 L721.5 450.2 L721.5 460.4 L721.5 469.9 L721.5 478.4 L721.5 485.6 L721.5 491.1 A3 3 0 0 0 727.5 490.9 L727.5 490.9 L727.3 485.5 L727.2 478.3 L727 469.9 L726.7 460.4 L726.5 450.1 L726.1 439.6 L725.8 428.9 L725.4 418.6 L724.9 408.8 L724.3 399.9 L723.7 391.6 L723 383.5 L722.3 375.5 L721.5 367.7 L720.6 360 L719.7 352.5 L718.8 345.2 L717.8 338.2 L716.9 331.4 L715.9 324.9 L714.9 318.4 L713.7 312 L712.5 305.7 L711.2 299.6 L710 293.7 L708.8 288.2 L707.7 283.2 L706.6 278.8 L705.8 275 L705.1 272Z"/><path d="M758.4 365 L759 367.9 L759.9 371.3 L760.9 375.3 L762 379.8 L763.2 384.8 L764.5 390.2 L765.8 396 L767 402.1 L768.1 408.5 L769.1 415.1 L770 422.2 L771 429.8 L771.9 437.8 L772.8 446.2 L773.7 454.9 L774.5 463.8 L775.2 472.9 L775.9 482 L776.6 491.1 L777.1 500.1 L777.5 509.6 L777.9 519.8 L778.2 530.6 L778.4 541.5 L778.6 552.4 L778.7 562.8 L778.8 572.5 L778.8 581.1 L778.9 588.4 L779 594.1 A3 3 0 0 0 785 593.9 L785 593.9 L784.8 588.3 L784.5 581 L784.3 572.4 L783.9 562.7 L783.6 552.3 L783.2 541.4 L782.7 530.4 L782.2 519.6 L781.6 509.4 L780.9 499.9 L780.1 490.8 L779.3 481.7 L778.4 472.6 L777.4 463.5 L776.4 454.6 L775.3 445.9 L774.2 437.5 L773.1 429.5 L772 421.9 L770.9 414.9 L769.7 408.2 L768.4 401.8 L767 395.7 L765.6 390 L764.1 384.6 L762.8 379.6 L761.5 375.1 L760.3 371.2 L759.4 367.8 L758.6 365Z"/><path d="M851.4 322 L852.1 325.4 L853.2 329.6 L854.4 334.5 L855.8 340.1 L857.3 346.1 L858.8 352.6 L860.3 359.3 L861.7 366.2 L863 373.2 L864.2 380.1 L865.2 387.2 L866.1 394.5 L867 402 L867.9 409.8 L868.7 417.8 L869.4 426 L870.1 434.3 L870.7 442.8 L871.3 451.4 L871.8 460.1 L872.1 469.4 L872.4 479.6 L872.6 490.4 L872.7 501.5 L872.7 512.5 L872.7 523.1 L872.7 533 L872.7 541.9 L872.7 549.3 L872.7 555 A2.8 2.8 0 0 0 878.3 555 L878.3 555 L878.1 549.2 L878 541.8 L877.8 533 L877.6 523.1 L877.4 512.5 L877.1 501.4 L876.7 490.3 L876.3 479.5 L875.8 469.2 L875.2 459.9 L874.6 451.2 L873.8 442.6 L873 434.1 L872.2 425.7 L871.2 417.6 L870.3 409.6 L869.2 401.8 L868.1 394.2 L867 386.9 L865.8 379.9 L864.5 372.9 L863.1 365.9 L861.5 359 L859.8 352.3 L858.1 345.9 L856.5 339.9 L855 334.4 L853.7 329.5 L852.5 325.3 L851.6 322Z"/></g></g>
<clipPath id="handclip"><path d="M-6 460C-1.7 461.7 12.3 467.7 20 470C27.7 472.3 31.7 473.8 40 474C48.3 474.2 60 471.8 70 471C80 470.2 91.7 469.2 100 469.5C108.3 469.8 114 471.2 120 473C126 474.8 131.7 477.3 136 480C140.3 482.7 142 486.3 146 489C150 491.7 154.3 494 160 496C165.7 498 173.3 499.5 180 501C186.7 502.5 192.5 503 200 505C207.5 507 217.8 510.8 225 513C232.2 515.2 238.6 516.8 243 518.5C247.4 520.2 250.8 521.5 251.5 523.5C252.2 525.5 251.4 529.2 247 530.5C242.6 531.8 232.8 531.7 225 531.5C217.2 531.3 207.5 530.1 200 529.5C192.5 528.9 186 528.4 180 528C174 527.6 167.7 526.5 164 527C160.3 527.5 158.7 529.2 158 531C157.3 532.8 160.7 535.5 160 538C159.3 540.5 156.3 543.8 154 546C151.7 548.2 146.3 549 146 551C145.7 553 151.2 555.3 152 558C152.8 560.7 152.7 564 151 567C149.3 570 145.5 573.8 142 576C138.5 578.2 134 580.2 130 580.5C126 580.8 123 579.1 118 578C113 576.9 106.3 575.8 100 574C93.7 572.2 86.7 570.2 80 567.5C73.3 564.8 66.7 561.2 60 558C53.3 554.8 46.7 551.5 40 548C33.3 544.5 27.7 540.3 20 537C12.3 533.7 -1.7 529.5 -6 528Z"/></clipPath>
<g clip-path="url(#handclip)"><rect x="-6" y="455" width="265" height="130" fill="#fdd5be"/>
<path d="M154 546C152.7 546.8 146.3 549 146 551C145.7 553 151.2 555.3 152 558C152.8 560.7 152.7 564 151 567C149.3 570 145.5 573.8 142 576C138.5 578.2 134 580.2 130 580.5C126 580.8 123 579.1 118 578C113 576.9 106.3 575.8 100 574C93.7 572.2 86.7 570.2 80 567.5C73.3 564.8 66.7 561.2 60 558C53.3 554.8 46.7 551.5 40 548C33.3 544.5 27.7 540.3 20 537C12.3 533.7 -1.7 529.5 -6 528" fill="none" stroke="#f7a77f" stroke-width="11" filter="url(#b3)"/>
<path d="M251.5 523.5C250.8 524.7 251.4 529.2 247 530.5C242.6 531.8 232.8 531.7 225 531.5C217.2 531.3 207.5 530.1 200 529.5C192.5 528.9 186 528.4 180 528C174 527.6 166.7 527.2 164 527" fill="none" stroke="#f9b592" stroke-width="5" filter="url(#b3)" opacity=".8"/>
<path d="M-6 460C-1.7 461.7 12.3 467.7 20 470C27.7 472.3 31.7 473.8 40 474C48.3 474.2 60 471.8 70 471C80 470.2 91.7 469.2 100 469.5C108.3 469.8 114 471.2 120 473C126 474.8 131.7 477.3 136 480C140.3 482.7 142 486.3 146 489C150 491.7 154.3 494 160 496C165.7 498 173.3 499.5 180 501C186.7 502.5 192.5 503 200 505C207.5 507 217.8 510.8 225 513C232.2 515.2 240 517.6 243 518.5" fill="none" stroke="#fbc0a0" stroke-width="7" filter="url(#b3)" opacity=".9"/>
</g>
<path d="M117 545 C119 538 138 532 164 527.5 C165 534 160 542 148 549 C138 554 124 553 118 548Z" fill="#fdd3ba"/>
<path d="M165 527.5 C150 530 132 534 121 539 C115 542 115 547 121 550" stroke="#ec9068" stroke-width="2" fill="none" opacity=".85"/>
<path d="M121 550 C130 553 140 552 148 549" stroke="#f0a07c" stroke-width="1.6" fill="none" opacity=".8"/>
<path d="M40 476 C70 473 110 473 134 481" stroke="#fee0cc" stroke-width="5" fill="none" opacity=".55" filter="url(#b1)"/>
<path d="M160 498 C190 504 220 512 244 519" stroke="#fedfca" stroke-width="3" fill="none" opacity=".6" filter="url(#b1)"/>
<ellipse cx="247" cy="524.5" rx="4.4" ry="4.4" fill="#fde0d2"/>
<ellipse cx="148.5" cy="564" rx="3.2" ry="6" fill="#fde3d8" transform="rotate(28 148.5 564)"/>
<g transform="translate(-478 0)"><path d="M672.3 372 L672.7 375.8 L673.3 380.6 L673.9 386.1 L674.7 392.4 L675.5 399.2 L676.3 406.4 L677.1 413.9 L678 421.4 L678.8 429 L679.5 436.4 L680.2 443.5 L680.7 450.1 L681.2 456.5 L681.6 463 L682 469.6 L682.4 476.1 L682.7 482.6 L683 489.1 L683.2 495.5 L683.5 501.7 L683.7 507.9 L683.9 513.8 L684 519.6 L684.2 525.1 L684.3 530.5 L684.4 535.7 L684.5 540.7 L684.6 545.6 L684.6 550.4 L684.6 555 L684.6 559.5 L684.5 563.9 L684.5 568.1 L684.4 572.2 L684.3 576.2 L684.2 580 L684.1 583.6 L683.9 587 L683.8 590.2 L683.6 593.3 L683.4 596.3 L683.2 599.1 L683 601.9 L682.7 604.5 L682.5 607.1 L682.2 609.7 L682 612.2 L681.7 614.8 L681.4 617.3 L681.1 619.8 L680.7 622.3 L680.4 624.7 L680 627.1 L679.6 629.3 L679.2 631.5 L678.8 633.5 L678.5 635.4 L678.2 637 L678 638.4 L677.8 639.6 L691.2 640.4 L691.2 639.2 L691.1 637.8 L691 636.1 L690.9 634.3 L690.8 632.2 L690.7 630 L690.6 627.7 L690.5 625.3 L690.4 622.8 L690.3 620.3 L690.3 617.8 L690.3 615.2 L690.3 612.8 L690.4 610.3 L690.5 607.7 L690.6 605.1 L690.7 602.4 L690.9 599.6 L691 596.7 L691.2 593.7 L691.3 590.5 L691.3 587.2 L691.4 583.7 L691.4 580 L691.4 576.2 L691.3 572.2 L691.3 568.1 L691.2 563.9 L691.2 559.5 L691.1 555 L691 550.3 L690.8 545.5 L690.6 540.5 L690.4 535.5 L690.1 530.2 L689.8 524.9 L689.4 519.3 L689 513.6 L688.6 507.6 L688.1 501.5 L687.6 495.2 L687.1 488.8 L686.5 482.3 L685.9 475.8 L685.3 469.3 L684.7 462.8 L684 456.3 L683.3 449.9 L682.5 443.2 L681.6 436.2 L680.7 428.8 L679.7 421.2 L678.6 413.7 L677.6 406.2 L676.6 399.1 L675.6 392.3 L674.7 386 L673.9 380.5 L673.2 375.7 L672.7 372Z" fill="#17171a"/><path d="M677.6 636 C676.5 655 668.5 664 668.5 680 C668.5 694 675 702.5 683 702.5 C691 702.5 696.5 694 696.5 680 C696.5 664 691.8 655 691.4 636Z" fill="#17171a"/><path d="M683 703 C683 696 684.5 692 685 688" stroke="#e8343c" stroke-width="1.3" fill="none"/><path d="M683.5 716 C681 708 683 700 684 694" stroke="#3a3fd0" stroke-width="1.2" fill="none"/><path d="M683.5 717 C685.5 709 683.5 702 685 697" stroke="#e8343c" stroke-width="1.1" fill="none"/></g>
</svg>
<p class="t cap" style="left:74px;width:400px;top:843px">Plant extracts absorbed deeply,<br>bypassing skin barriers efficiently</p>
<p class="t cap" style="left:545px;width:400px;top:843px">After applying, there is a noticeable<br>improvement in the effect</p>
</body></html>
